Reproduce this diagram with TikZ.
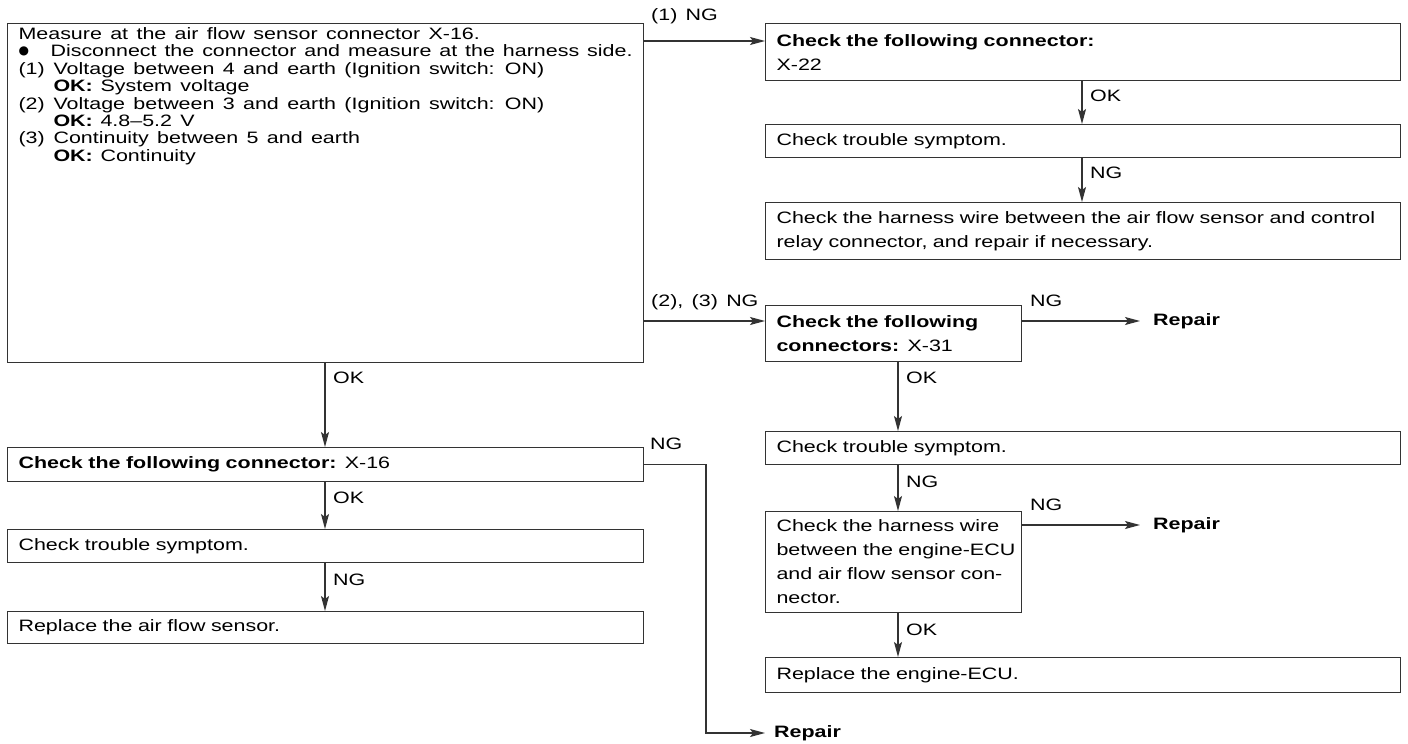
\documentclass[tikz,border=0pt]{standalone}
\usepackage{fontspec}
\setmainfont{Liberation Sans}[FakeStretch=1.3,WordSpace=1.4]
\newfontfamily\bulletfont{DejaVu Sans}
\usetikzlibrary{arrows.meta,calc}
\definecolor{linec}{HTML}{333333}
\newcommand{\jl}[1]{\makebox[\linewidth][s]{#1}}
\begin{document}
\begin{tikzpicture}[x=1pt,y=-1pt,
  box/.style={draw=linec,line width=1.1pt,anchor=north west,inner xsep=11pt,inner ysep=0pt,align=left,font=\fontsize{16.5}{24}\selectfont},
  arr/.style={draw=linec,line width=1.1pt,-{Stealth[length=15pt,width=8pt,inset=3pt]}},
  lab/.style={anchor=west,inner sep=0pt,font=\fontsize{16.5}{18}\selectfont},
  rep/.style={anchor=west,inner sep=0pt,font=\fontsize{16.5}{18}\selectfont\bfseries}]
\fill[white] (0,0) rectangle (1408,744);
\useasboundingbox (0,0) rectangle (1408,744);

% main box
\node[draw=linec,line width=1.1pt,anchor=north west,inner xsep=11pt,inner ysep=0pt] (M) at (7,23)
 {\parbox[c][339pt][t]{614pt}{\fontsize{16.5}{17.4}\selectfont\vspace*{4pt}\noindent
 Measure at the air flow sensor connector X-16.\\
 \jl{\makebox[32pt][l]{\raisebox{2.6pt}{\bulletfont\fontsize{12}{12}\selectfont ●}}Disconnect the connector and measure at the harness side.}\\
 \makebox[35pt][l]{(1)}Voltage between 4 and earth (Ignition switch: ON)\\
 \hspace*{35pt}\makebox[47pt][l]{\textbf{OK:}}System voltage\\
 \makebox[35pt][l]{(2)}Voltage between 3 and earth (Ignition switch: ON)\\
 \hspace*{35pt}\makebox[47pt][l]{\textbf{OK:}}4.8–5.2 V\\
 \makebox[35pt][l]{(3)}Continuity between 5 and earth\\
 \hspace*{35pt}\makebox[47pt][l]{\textbf{OK:}}Continuity}};

% right upper column
\node[box,text width=613pt,minimum height=57pt] (A1) at (765,23) {\textbf{Check the following connector:}\\X-22};
\node[box,text width=613pt,minimum height=33pt] (A2) at (765,124) {Check trouble symptom.};
\node[box,text width=613pt,minimum height=57pt] (A3) at (765,202)
 {\jl{Check the harness wire between the air flow sensor and control}\\relay connector, and repair if necessary.};

% right lower column
\node[box,text width=234pt,minimum height=56pt] (B1) at (765,305) {\jl{\textbf{Check the following}}\\\textbf{connectors:} X-31};
\node[box,text width=613pt,minimum height=33pt] (B2) at (765,431) {Check trouble symptom.};
\node[box,text width=234pt,minimum height=101pt] (B3) at (765,511)
 {\jl{Check the harness wire}\\\jl{between the engine-ECU}\\\jl{and air flow sensor con-}\\nector.};
\node[box,text width=613pt,minimum height=35pt] (B4) at (765,657) {Replace the engine-ECU.};

% left column
\node[box,text width=614pt,minimum height=34pt] (C1) at (7,447) {\textbf{Check the following connector:} X-16};
\node[box,text width=614pt,minimum height=33pt] (C2) at (7,529) {Check trouble symptom.};
\node[box,text width=614pt,minimum height=32pt] (C3) at (7,611) {Replace the air flow sensor.};

% repair ends
\node[rep] (rep1) at (1153,321) {Repair};
\node[rep] (rep2) at (1153,525) {Repair};
\node[rep] (rep3) at (774,733) {Repair};

% columns
\coordinate (colA) at (1082,0);
\coordinate (colB) at (898,0);
\coordinate (colC) at (325,0);
\coordinate (colD) at (706,0);
\coordinate (a1in) at ([yshift=-18pt]A1.north west);
\coordinate (b1in) at ([yshift=-16pt]B1.north west);

% connectors
\draw[arr] (M.east |- a1in) -- (a1in);
\draw[arr] (A1.south -| colA) -- (A2.north -| colA);
\draw[arr] (A2.south -| colA) -- (A3.north -| colA);
\draw[arr] (M.east |- b1in) -- (b1in);
\draw[arr] (B1.east |- rep1.west) -- ([xshift=-13pt]rep1.west);
\draw[arr] (B1.south -| colB) -- (B2.north -| colB);
\draw[arr] (B2.south -| colB) -- (B3.north -| colB);
\draw[arr] (B3.east |- rep2.west) -- ([xshift=-13pt]rep2.west);
\draw[arr] (B3.south -| colB) -- (B4.north -| colB);
\draw[arr] (M.south -| colC) -- (C1.north -| colC);
\draw[arr] (C1.south -| colC) -- (C2.north -| colC);
\draw[arr] (C2.south -| colC) -- (C3.north -| colC);
\draw[arr] (C1.east) -- (C1.east -| colD) -- (colD |- rep3.west) -- ([xshift=-9pt]rep3.west);

% labels
\node[lab] (l1) at (651,16) {(1) NG};
\node[lab] (l2) at (1090,96) {OK};
\node[lab] (l3) at (1090,173) {NG};
\node[lab] (l4) at (651,302) {(2), (3) NG};
\node[lab] (l5) at (1030,301) {NG};
\node[lab] (l6) at (906,378) {OK};
\node[lab] (l7) at (906,482) {NG};
\node[lab] (l8) at (1030,505) {NG};
\node[lab] (l9) at (906,630) {OK};
\node[lab] (l10) at (333,378) {OK};
\node[lab] (l11) at (333,498) {OK};
\node[lab] (l12) at (333,580) {NG};
\node[lab] (l13) at (650,444) {NG};
\end{tikzpicture}
\end{document}
